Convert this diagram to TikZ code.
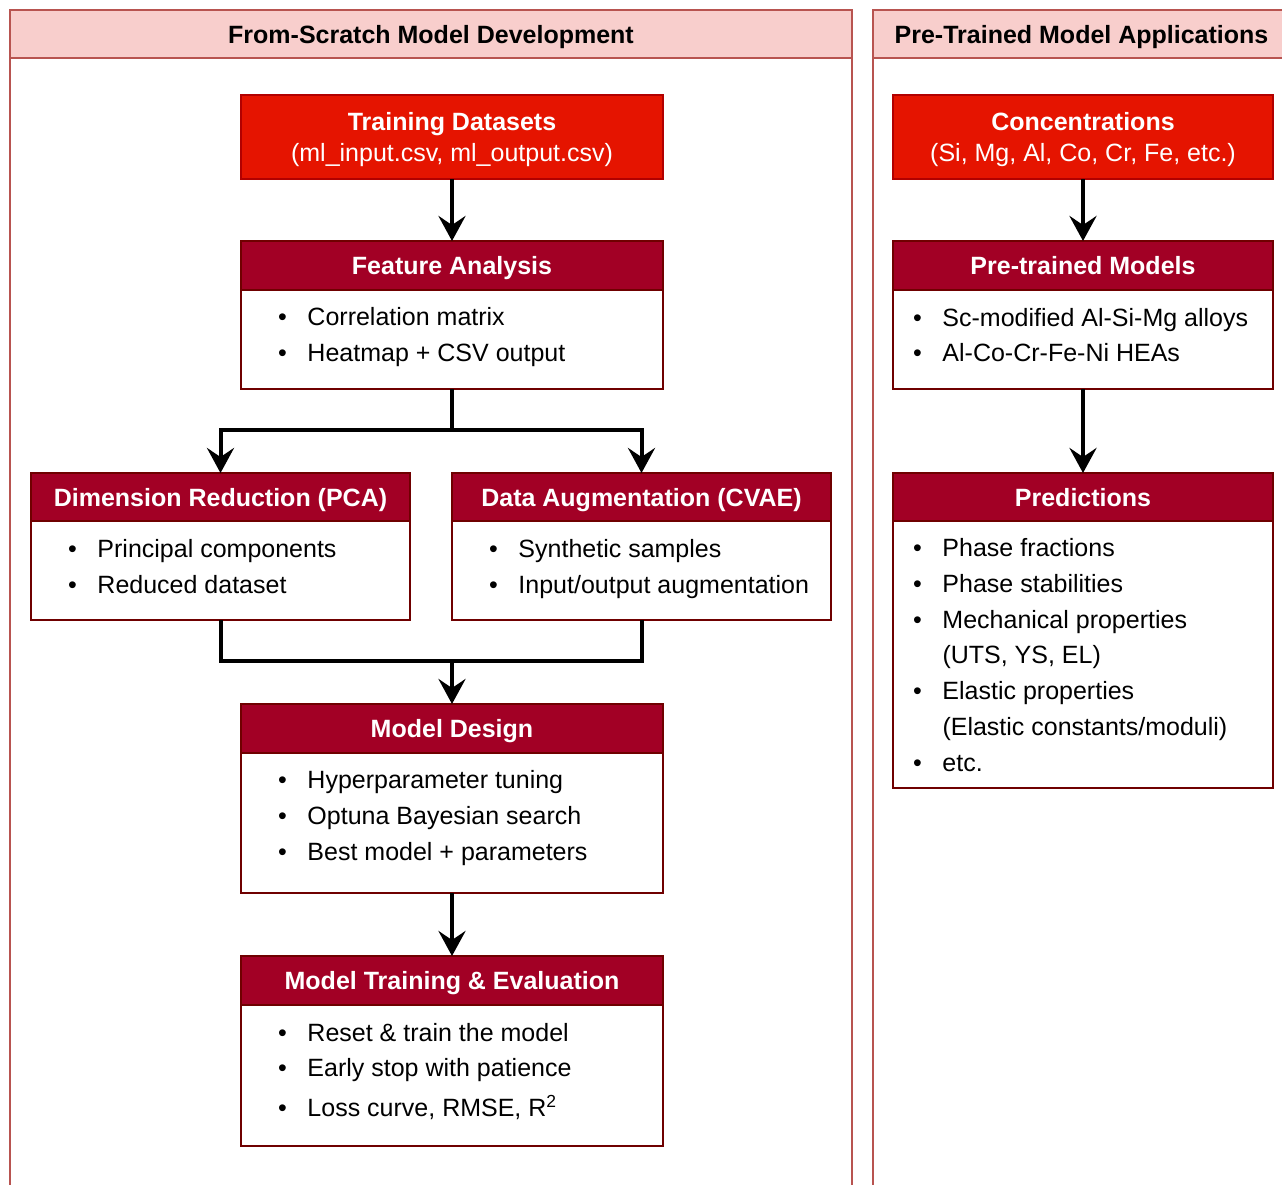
\documentclass[tikz,border=0pt]{standalone}
\usepackage{fontspec}
\setmainfont{Liberation Sans}
\usetikzlibrary{arrows.meta,calc}
\definecolor{panelfill}{HTML}{F8CECC}
\definecolor{panelline}{HTML}{B85450}
\definecolor{brightred}{HTML}{E51400}
\definecolor{brightline}{HTML}{B20000}
\definecolor{darkred}{HTML}{A20025}
\definecolor{darkline}{HTML}{6F0000}
\newcommand{\bul}{\makebox[29.5pt][l]{\textbullet}}
\newcommand{\ind}{\hspace*{29.5pt}}
\begin{document}
\begin{tikzpicture}[x=1pt,y=-1pt,
  every node/.style={inner sep=0pt, outer sep=0pt},
  panelframe/.style={draw=panelline, line width=2pt},
  panelhdr/.style={draw=panelline, fill=panelfill, line width=2pt, text=black,
    text height=18pt, text depth=0pt,
    font=\fontsize{25}{30}\selectfont\bfseries},
  redbox/.style={draw=brightline, fill=brightred, line width=2pt, text=white, align=center,
    font=\fontsize{25}{31.5}\selectfont},
  hdrbox/.style={draw=darkline, fill=darkred, line width=2pt, text=white,
    text height=18pt, text depth=0pt,
    font=\fontsize{25}{30}\selectfont\bfseries},
  bodybox/.style={draw=darkline, fill=white, line width=2pt},
  listtxt/.style={align=left, anchor=west, text=black, font=\fontsize{25}{35.7}\selectfont},
  arr/.style={line width=4pt, -{Stealth[length=25pt, width=27pt, inset=9pt]}},
  conn/.style={line width=4pt},
]
\clip (0,0) rectangle (1282,1184);
\fill[white] (0,0) rectangle (1282,1184);

% panels
\draw[panelframe] (10,10) rectangle (852,1210);
\node[panelhdr, minimum width=842pt, minimum height=48pt] (lph) at (431,34) {From-Scratch Model Development};
\draw[panelframe] (873,10) rectangle (1290,1210);
\node[panelhdr, minimum width=417pt, minimum height=48pt] (rph) at (1081.5,34) {Pre-Trained Model Applications};

% left column
\node[redbox, minimum width=422pt, minimum height=84pt] (td) at (452,137)
  {\rule{0pt}{23pt}\textbf{Training Datasets}\\(ml\_input.csv, ml\_output.csv)};

\node[hdrbox, minimum width=422pt, minimum height=49pt] (fah) at (452,265.5) {Feature Analysis};
\node[bodybox, minimum width=422pt, minimum height=99pt, anchor=north] (fab) at (fah.south) {};
\node[listtxt] (fal) at (278,337) {\bul Correlation matrix\\\bul Heatmap + CSV output};

\node[hdrbox, minimum width=379pt, minimum height=48pt] (drh) at (220.5,497) {Dimension Reduction (PCA)};
\node[bodybox, minimum width=379pt, minimum height=99pt, anchor=north] (drb) at (drh.south) {};
\node[listtxt] (drl) at (68,566.5) {\bul Principal components\\\bul Reduced dataset};

\node[hdrbox, minimum width=379pt, minimum height=48pt] (dah) at (641.5,497) {Data Augmentation (CVAE)};
\node[bodybox, minimum width=379pt, minimum height=99pt, anchor=north] (dab) at (dah.south) {};
\node[listtxt] (dal) at (489,569) {\bul Synthetic samples\\\bul Input/output augmentation};

\node[hdrbox, minimum width=422pt, minimum height=49pt] (mdh) at (452,728.5) {Model Design};
\node[bodybox, minimum width=422pt, minimum height=140pt, anchor=north] (mdb) at (mdh.south) {};
\node[listtxt] (mdl) at (278,818) {\bul Hyperparameter tuning\\\bul Optuna Bayesian search\\\bul Best model + parameters};

\node[hdrbox, minimum width=422pt, minimum height=49pt] (mth) at (452,980.5) {Model Training \& Evaluation};
\node[bodybox, minimum width=422pt, minimum height=141pt, anchor=north] (mtb) at (mth.south) {};
\node[listtxt] (mtl) at (278,1071.5) {\bul Reset \& train the model\\\bul Early stop with patience\\[4pt]\bul Loss curve, RMSE, R\textsuperscript{2}};

% right column
\node[redbox, minimum width=380pt, minimum height=84pt] (cn) at (1083,137)
  {\rule{0pt}{23pt}\textbf{Concentrations}\\(Si, Mg, Al, Co, Cr, Fe, etc.)};

\node[hdrbox, minimum width=380pt, minimum height=49pt] (pth) at (1083,265.5) {Pre-trained Models};
\node[bodybox, minimum width=380pt, minimum height=99pt, anchor=north] (ptb) at (pth.south) {};
\node[listtxt] (ptl) at (913,335) {\bul Sc-modified Al-Si-Mg alloys\\\bul Al-Co-Cr-Fe-Ni HEAs};

\node[hdrbox, minimum width=380pt, minimum height=48pt] (prh) at (1083,497) {Predictions};
\node[bodybox, minimum width=380pt, minimum height=267pt, anchor=north] (prb) at (prh.south) {};
\node[listtxt] (prl) at (913,655) {\bul Phase fractions\\\bul Phase stabilities\\\bul Mechanical properties\\\ind (UTS, YS, EL)\\\bul Elastic properties\\\ind (Elastic constants/moduli)\\\bul etc.};

% connectors
\coordinate (sj) at (452,430);
\coordinate (mj) at (452,661);
\draw[arr] (td) -- (fah);
\draw[conn] (fab.south) -- (sj);
\draw[arr] (sj) -| (drh.north);
\draw[arr] (sj) -| (dah.north);
\draw[conn] (drb.south) -- (drb.south |- mj) -- (dab.south |- mj) -- (dab.south);
\draw[arr] (mj) -- (mdh.north);
\draw[arr] (mdb) -- (mth);
\draw[arr] (cn) -- (pth);
\draw[arr] (ptb) -- (prh);
\end{tikzpicture}
\end{document}
